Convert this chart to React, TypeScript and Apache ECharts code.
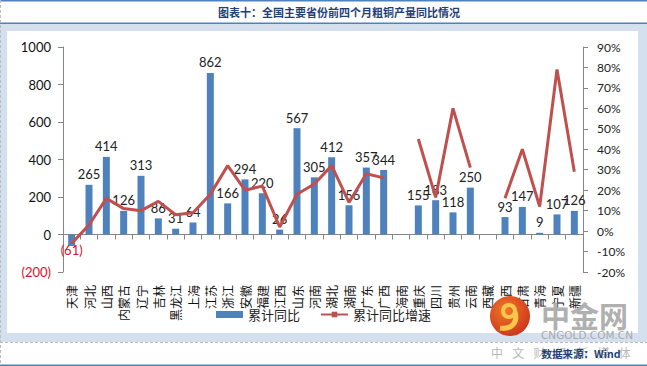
import React, { useEffect, useRef } from "react";
import * as echarts from "echarts";

const categories = ["天津","河北","山西","内蒙古","辽宁","吉林","黑龙江","上海","江苏","浙江","安徽","福建","江西","山东","河南","湖北","湖南","广东","广西","海南","重庆","四川","贵州","云南","西藏","陕西","甘肃","青海","宁夏","新疆"];
const cumulativeYoY = [-61,265,414,126,313,86,31,64,862,166,294,220,26,567,305,412,156,357,344,null,155,183,118,250,null,93,147,9,107,126];
const cumulativeYoYRate = [-6,3,16,11,10,14.5,8,9,18,32,20,22,2,18,23,32,14,28,26,null,45,16.5,60,31,null,16,40,12,79,29];

const titleText = "图表十：全国主要省份前四个月粗铜产量同比情况";
const seriesNames = ["累计同比", "累计同比增速"];
const sourceText = "数据来源：Wind";
const sloganChars = ["中", "文", "财", "经", "新", "媒", "体"];

const numFont = "Lato, 'Open Sans', sans-serif";
const cjkFont = "'Noto Sans CJK SC', sans-serif";

export default function App() {
  const ref = useRef<HTMLDivElement>(null);
  useEffect(() => {
    if (!ref.current) return;
    const chart = echarts.init(ref.current, null, { renderer: "svg" });
    const lightBlue = "#d5e0ef";
    const slogan = sloganChars.map((c, i) => ({
      type: "text", z: 60, x: 497 + i * 21.3, y: 352,
      style: { text: c, font: `12px ${cjkFont}`, fill: "#b8b8b8", align: "center", verticalAlign: "middle" }
    }));
    chart.setOption({
      animation: false,
      backgroundColor: "#ffffff",
      graphic: [
        { type: "rect", z: -10, shape: { x: 0, y: 0, width: 647, height: 1.5 }, style: { fill: "#4f81bd" } },
        { type: "rect", z: -10, shape: { x: 0, y: 22.5, width: 647, height: 1.5 }, style: { fill: "#4f81bd" } },
        { type: "rect", z: -10, shape: { x: 0, y: 24, width: 647, height: 318 }, style: { fill: lightBlue } },
        { type: "rect", z: -9, shape: { x: 7, y: 31, width: 631, height: 302 }, style: { fill: "#ffffff" } },
        { type: "line", z: -8, shape: { x1: 0, y1: 342.5, x2: 647, y2: 342.5 }, style: { stroke: "#bdbdbd", lineWidth: 1, lineDash: [3, 2] } },
        { type: "line", z: -8, shape: { x1: 0.5, y1: 0, x2: 0.5, y2: 366 }, style: { stroke: "#bdbdbd", lineWidth: 1, lineDash: [3, 2] } },
        { type: "rect", z: -8, shape: { x: 0, y: 364.5, width: 647, height: 1.5 }, style: { fill: "#4f81bd" } },
        {
          type: "text", z: 50, x: 339, y: 12,
          style: { text: titleText, font: `bold 11px ${cjkFont}`, fill: "#1f3f77", align: "center", verticalAlign: "middle" }
        },
        {
          type: "circle", z: 60, shape: { cx: 510, cy: 316, r: 20 },
          style: {
            fill: new echarts.graphic.RadialGradient(0.4, 0.35, 0.8, [
              { offset: 0, color: "#f07a2a" },
              { offset: 1, color: "#c8281a" }
            ])
          }
        },
        { type: "arc", z: 61, shape: { cx: 509, cy: 311, r: 6, startAngle: 0, endAngle: Math.PI * 2 }, style: { stroke: "#f7c64a", lineWidth: 4, fill: "none" } },
        { type: "bezierCurve", z: 61, shape: { x1: 515, y1: 312, x2: 500, y2: 328, cpx1: 518, cpy1: 322, cpx2: 512, cpy2: 330 }, style: { stroke: "#f7c64a", lineWidth: 5, fill: "none" } },
        {
          type: "text", z: 60, x: 541, y: 315,
          style: { text: "中金网", font: `bold 29px ${cjkFont}`, fill: "#b0b0b0", align: "left", verticalAlign: "middle" }
        },
        {
          type: "text", z: 60, x: 587, y: 335,
          style: { text: "CNGOLD.COM.CN", font: `10.5px 'DejaVu Sans', sans-serif`, fill: "#a9a9a9", align: "center", verticalAlign: "middle" }
        },
        ...slogan,
        {
          type: "text", z: 62, x: 581, y: 353,
          style: { text: sourceText, font: `bold 10.5px ${cjkFont}`, fill: "#1f3f77", align: "center", verticalAlign: "middle" }
        }
      ],
      legend: {
        left: "center",
        top: 303,
        itemWidth: 27,
        itemHeight: 7,
        itemGap: 20,
        textStyle: { fontFamily: cjkFont, fontSize: 13, color: "#222" },
        data: [
          { name: seriesNames[0], icon: "rect" },
          { name: seriesNames[1] }
        ]
      },
      grid: { left: 63, right: 64, top: 47, height: 225, containLabel: false },
      xAxis: {
        type: "category",
        data: categories,
        axisLine: { onZero: true, lineStyle: { color: "#868686" } },
        axisTick: { show: true, length: 5, lineStyle: { color: "#868686" } },
        axisLabel: {
          interval: 0,
          rotate: 90,
          margin: 13,
          fontFamily: cjkFont,
          fontSize: 12,
          color: "#111"
        }
      },
      yAxis: [
        {
          type: "value",
          min: -200,
          max: 1000,
          interval: 200,
          splitLine: { show: false },
          axisLine: { show: true, lineStyle: { color: "#868686" } },
          axisTick: { show: true, length: 5, lineStyle: { color: "#868686" } },
          axisLabel: {
            margin: 12,
            fontFamily: numFont,
            fontSize: 13,
            formatter: (v: number) => (v < 0 ? `{neg|(${Math.abs(v)})}` : `${v}`),
            color: "#111",
            rich: { neg: { color: "#e0102a", fontFamily: numFont, fontSize: 13 } }
          }
        },
        {
          type: "value",
          min: -20,
          max: 90,
          interval: 10,
          splitLine: { show: false },
          axisLine: { show: true, lineStyle: { color: "#868686" } },
          axisTick: { show: true, length: 5, lineStyle: { color: "#868686" } },
          axisLabel: {
            margin: 14,
            fontFamily: numFont,
            fontSize: 12,
            color: "#222",
            formatter: (v: number) => `${v}%`
          }
        }
      ],
      series: [
        {
          name: seriesNames[0],
          type: "bar",
          yAxisIndex: 0,
          barWidth: 7,
          itemStyle: { color: "#4f81bd" },
          z: 2,
          data: cumulativeYoY.map((v) =>
            v !== null && v < 0
              ? { value: v, label: { position: "bottom", distance: -2, color: "#e0102a", formatter: `(${Math.abs(v)})` } }
              : v
          ),
          label: {
            show: true,
            position: "top",
            distance: 4,
            fontFamily: numFont,
            fontSize: 13,
            color: "#222"
          }
        },
        {
          name: seriesNames[1],
          type: "line",
          yAxisIndex: 1,
          data: cumulativeYoYRate,
          z: 3,
          symbol: "rect",
          symbolSize: 4,
          showSymbol: false,
          connectNulls: false,
          lineStyle: { color: "#c0504d", width: 3 },
          itemStyle: { color: "#c0504d" }
        }
      ]
    });
    return () => chart.dispose();
  }, []);
  return <div ref={ref} style={{ position: "absolute", left: 0, top: 0, width: 647, height: 366 }} />;
}
